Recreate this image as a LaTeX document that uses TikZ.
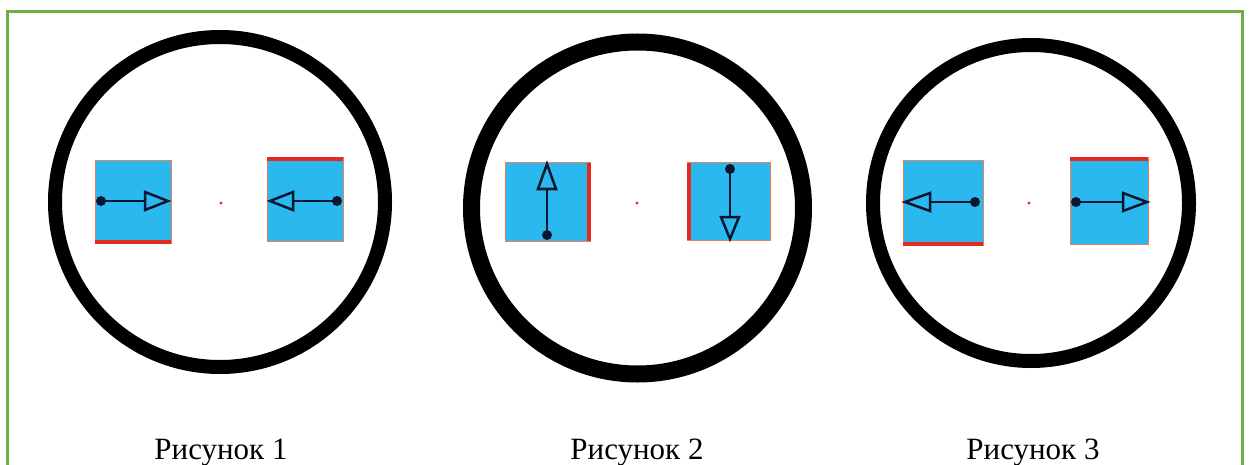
\documentclass[tikz,border=0pt]{standalone}
\usepackage{fontspec}
\setmainfont{Liberation Serif}
\begin{document}
\begin{tikzpicture}[x=1pt,y=-1pt,
  ring/.style={draw=black,line width=#1},
  sq/.style={fill=sqblue,draw=sqedge,line width=1pt},
  redge/.style={draw=sqred,line width=4pt},
  vec/.style={draw=vecc,line width=2.8pt},
  head/.style={draw=vecc,line width=2.5pt,line join=miter},
  dotc/.style={fill=vecc,draw=none},
  captext/.style={font=\fontsize{31}{36}\selectfont,anchor=base}]
\definecolor{sqblue}{HTML}{2BB8EE}
\definecolor{sqedge}{HTML}{F08050}
\definecolor{sqred}{HTML}{E42A1E}
\definecolor{vecc}{HTML}{0B1630}
\definecolor{frame}{HTML}{70AD47}
\useasboundingbox (0,0) rectangle (1249,465);
% frame
\draw[frame,line width=3pt] (7,466) -- (7,11.5) -- (1242,11.5) -- (1242,466);
% circles
\coordinate (c1) at (220,202);
\coordinate (c2) at (637.5,208);
\coordinate (c3) at (1031,203);
\draw[ring=14pt] (c1) circle (165);
\draw[ring=17pt] (c2) circle (166);
\draw[ring=14pt] (c3) circle (158);
\fill[sqred] (221,203) circle (1.6);
\fill[sqred] (637,203) circle (1.6);
\fill[sqred] (1029,203) circle (1.6);
% ---------- figure 1 ----------
\path[sq] (95,161) rectangle (171,243);
\draw[redge] (95,241.5) -- (171,241.5);
\coordinate (a1) at (101,201); \coordinate (b1) at (145,201); \coordinate (t1) at (168,201);
\draw[vec] (a1) -- (b1);
\draw[head] (b1) ++(0,-9) -- (t1) -- (b1 |- 0,210) -- cycle;
\fill[dotc] (a1) circle (5);
\path[sq] (267,158) rectangle (343,241);
\draw[redge] (267,159.5) -- (343,159.5);
\coordinate (a2) at (337,201); \coordinate (b2) at (293,201); \coordinate (t2) at (270,201);
\draw[vec] (a2) -- (b2);
\draw[head] (b2) ++(0,-9) -- (t2) -- (b2 |- 0,210) -- cycle;
\fill[dotc] (a2) circle (5);
% ---------- figure 2 ----------
\path[sq] (505,163) rectangle (590,241);
\draw[redge] (588.5,163) -- (588.5,241);
\coordinate (a3) at (547,235); \coordinate (b3) at (547,189); \coordinate (t3) at (547,164);
\draw[vec] (a3) -- (b3);
\draw[head] (b3) ++(-9,0) -- (t3) -- ++(9,25) -- cycle;
\fill[dotc] (a3) circle (5);
\path[sq] (687,163) rectangle (770,240);
\draw[redge] (688.5,163) -- (688.5,240);
\coordinate (a4) at (730,169); \coordinate (b4) at (730,217); \coordinate (t4) at (730,239);
\draw[vec] (a4) -- (b4);
\draw[head] (b4) ++(-9,0) -- (t4) -- ++(9,-22) -- cycle;
\fill[dotc] (a4) circle (5);
% ---------- figure 3 ----------
\path[sq] (903,161) rectangle (983,245);
\draw[redge] (903,243.5) -- (983,243.5);
\coordinate (a5) at (975,202); \coordinate (b5) at (930,202); \coordinate (t5) at (905,202);
\draw[vec] (a5) -- (b5);
\draw[head] (b5) ++(0,-9) -- (t5) -- (b5 |- 0,211) -- cycle;
\fill[dotc] (a5) circle (5);
\path[sq] (1070,158) rectangle (1148,244);
\draw[redge] (1070,159.5) -- (1148,159.5);
\coordinate (a6) at (1076,202); \coordinate (b6) at (1123,202); \coordinate (t6) at (1147,202);
\draw[vec] (a6) -- (b6);
\draw[head] (b6) ++(0,-9) -- (t6) -- (b6 |- 0,211) -- cycle;
\fill[dotc] (a6) circle (5);
% captions
\node[captext] (l1) at (221,459) {Рисунок 1};
\node[captext] (l2) at (637,459) {Рисунок 2};
\node[captext] (l3) at (1033,459) {Рисунок 3};
\end{tikzpicture}
\end{document}
